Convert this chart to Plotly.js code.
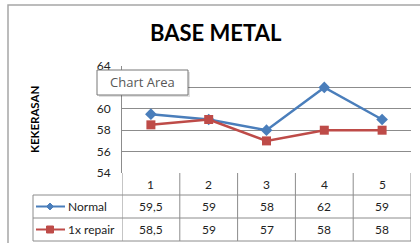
<!DOCTYPE html>
<html><head><meta charset="utf-8">
<script src="https://cdn.plot.ly/plotly-3.0.1.min.js"></script>
<style>html,body{margin:0;padding:0;background:#fff}#c{width:420px;height:243px}</style>
</head><body><div id="c"></div>
<script>
const categories = ['1','2','3','4','5'];
const normal = [59.5, 59, 58, 62, 59];
const repair = [58.5, 59, 57, 58, 58];
const seriesNames = ['Normal', '1x repair'];
const yTicks = [54, 56, 58, 60, 62, 64];

const W = 420, H = 243;
const px = x => x / W;
const py = y => 1 - y / H;
const FONT = 'Lato, "Open Sans", sans-serif';
const BLUE = '#4A7EBB', RED = '#BE4B48', GRID = '#8C8C8C';

const plotL = 122, plotR = 411, plotT = 66, plotB = 173;
const rowY = [173, 195, 218, 241];
const legL = 33;

const fmt = v => String(v).replace('.', ',');
const A = o => Object.assign({xref:'paper', yref:'paper', showarrow:false, xanchor:'center', yanchor:'middle'}, o);

const shapes = [];
const ann = [];
// outer chart area frame
shapes.push({type:'rect', xref:'paper', yref:'paper', x0:px(8), x1:px(430), y0:py(5), y1:py(260), line:{color:'#A6A6A6', width:1.5}});
// table vertical lines (category boundaries)
for (let i = 0; i <= categories.length; i++) {
  shapes.push({type:'line', xref:'x', yref:'paper', x0:i-0.5, x1:i-0.5, y0:py(rowY[0]), y1:py(rowY[3]), line:{color:GRID, width:1}});
}
// legend column left line
shapes.push({type:'line', xref:'paper', yref:'paper', x0:px(legL), x1:px(legL), y0:py(rowY[1]), y1:py(rowY[3]), line:{color:GRID, width:1}});
// horizontal table lines
[1,2,3].forEach(r => {
  shapes.push({type:'line', xref:'paper', yref:'paper', x0:px(legL), x1:px(plotR), y0:py(rowY[r]), y1:py(rowY[r]), line:{color:GRID, width:1}});
});
// category labels row
categories.forEach((c, i) => {
  ann.push(A({xref:'x', x:i, y:py((rowY[0]+rowY[1])/2), text:c, font:{family:FONT, size:12, color:'#222'}}));
});
// values rows
const rows = [normal, repair];
rows.forEach((vals, r) => {
  const yc = (rowY[r+1] + rowY[r+2]) / 2;
  vals.forEach((v, i) => {
    ann.push(A({xref:'x', x:i, y:py(yc), text:fmt(v), font:{family:FONT, size:12, color:'#222'}}));
  });
  // legend key
  const col = r === 0 ? BLUE : RED;
  shapes.push({type:'line', xref:'paper', yref:'paper', x0:px(36), x1:px(65), y0:py(yc), y1:py(yc), line:{color:col, width:2}});
  if (r === 0) {
    shapes.push({type:'path', xref:'paper', yref:'paper', path:`M ${px(50)} ${py(yc-3.5)} L ${px(53.5)} ${py(yc)} L ${px(50)} ${py(yc+3.5)} L ${px(46.5)} ${py(yc)} Z`, fillcolor:col, line:{color:col, width:1}});
  } else {
    shapes.push({type:'rect', xref:'paper', yref:'paper', x0:px(46.5), x1:px(53.5), y0:py(yc-3.5), y1:py(yc+3.5), fillcolor:col, line:{color:col, width:1}});
  }
  ann.push(A({x:px(66), y:py(yc), xanchor:'left', text:seriesNames[r], font:{family:FONT, size:12, color:'#222'}}));
});
// Title
ann.push(A({x:px(216), y:py(33), text:'<b>BASE METAL</b>', font:{family:FONT, size:22, color:'#000'}}));
// Y title
ann.push(A({x:px(34), y:py(120), text:'<b>KEKERASAN</b>', textangle:-90, font:{family:FONT, size:11.5, color:'#000'}}));
// Tooltip "Chart Area"
shapes.push({type:'rect', xref:'paper', yref:'paper', x0:px(99), x1:px(190), y0:py(72), y1:py(97), fillcolor:'rgba(0,0,0,0.12)', line:{width:0}});
shapes.push({type:'rect', xref:'paper', yref:'paper', x0:px(97), x1:px(188), y0:py(70), y1:py(95), fillcolor:'#fff', line:{color:'#767676', width:1}});
ann.push(A({x:px(142.5), y:py(82.5), text:'Chart Area', font:{family:'"Open Sans", sans-serif', size:13, color:'#575757'}}));

const traces = [
  {x:categories, y:normal, name:seriesNames[0], type:'scatter', mode:'lines+markers', line:{color:BLUE, width:2.5}, marker:{symbol:'diamond', size:9, color:BLUE}},
  {x:categories, y:repair, name:seriesNames[1], type:'scatter', mode:'lines+markers', line:{color:RED, width:2.5}, marker:{symbol:'square', size:9, color:RED}}
];

const layout = {
  width:W, height:H, margin:{l:0, r:0, t:0, b:0},
  paper_bgcolor:'#fff', plot_bgcolor:'#fff', showlegend:false,
  xaxis:{domain:[px(plotL), px(plotR)], type:'category', range:[-0.5, 4.5], showticklabels:false, showgrid:false, zeroline:false, showline:false, ticks:''},
  yaxis:{domain:[py(plotB), py(plotT)], range:[54, 64], tickvals:yTicks, ticktext:yTicks.map(String), showgrid:true, gridcolor:GRID, gridwidth:1, zeroline:false, showline:true, linecolor:GRID, linewidth:1, ticks:'', tickfont:{family:FONT, size:12, color:'#222'}, ticklabelstandoff:8},
  shapes:shapes, annotations:ann
};
Plotly.newPlot('c', traces, layout, {staticPlot:true, displayModeBar:false});
</script></body></html>
